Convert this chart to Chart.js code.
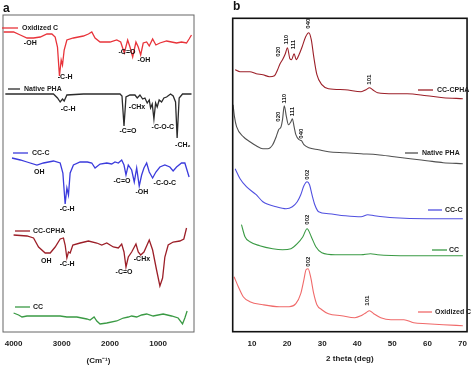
<!DOCTYPE html>
<html><head><meta charset="utf-8">
<script src="https://cdn.jsdelivr.net/npm/chart.js@4"></script>
<style>
html,body{margin:0;padding:0;background:#fff;width:474px;height:366px;overflow:hidden}
#ca{position:absolute;left:0;top:0}
#cb{position:absolute;left:230px;top:0}
</style></head><body>
<canvas id="ca" width="200" height="366"></canvas>
<canvas id="cb" width="244" height="366"></canvas>
<script>
// ---------- Panel a : FTIR (wavenumber, cm-1 ; arbitrary offset transmittance) ----------
const seriesNames = ['Oxidized C', 'Native PHA', 'CC-C', 'CC-CPHA', 'CC'];
const ftirTicks = [1000, 2000, 3000, 4000];

const ftirOxidizedWn = [4207,4000,3861,3722,3586,3447,3308,3205,3137,3089,3048,3012,2985,2950,2894,2758,2551,2447,2377,2309,2205,1998,1859,1777,1702,1632,1584,1528,1460,1412,1362,1309,1238,1184,1114,1046,963,824,721,617,514,410,357,307];
const ftirOxidizedT  = [300,300,297,294,294,295,298,298,295,285,256,272,267,282,292,294,296,298,300,294,290,290,292,290,279,292,285,275,290,285,277,289,290,286,293,287,289,291,290,289,290,289,293,297];

const ftirNativeWn = [4172,3586,3172,3089,3033,2985,2950,2894,2551,1791,1750,1708,1667,1584,1481,1433,1377,1321,1274,1226,1184,1156,1122,1087,1052,1019,978,928,880,824,742,687,638,605,563,493,307];
const ftirNativeT  = [238,238,238,234,230,233,231,237,238,238,236,206,235,237,237,234,237,233,234,229,232,224,228,213,229,225,232,230,234,235,238,236,230,194,234,238,238];

const ftirCCCWn = [4033,3861,3722,3515,3379,3172,3033,2977,2930,2894,2861,2826,2758,2619,2468,2377,2309,2205,2066,1963,1895,1826,1756,1708,1667,1619,1549,1495,1445,1392,1342,1294,1238,1184,1114,1046,963,860,756,688,617,514,445,357];
const ftirCCCT  = [174,172,170,167,169,171,169,159,128,144,137,159,167,170,170,169,164,168,169,168,170,169,172,167,157,167,162,150,164,146,157,164,169,160,154,160,165,167,165,161,165,169,169,155];

const ftirCCCPHAWn = [4000,3722,3586,3482,3344,3240,3137,3033,2965,2930,2894,2861,2826,2770,2619,2447,2273,2170,2066,1930,1826,1756,1708,1667,1619,1549,1460,1412,1362,1294,1184,1114,1032,963,907,860,791,688,549,466,410];
const ftirCCCPHAT  = [97,96,94,85,79,79,85,93,94,87,74,80,79,87,89,91,89,87,89,85,84,88,80,65,75,80,88,80,77,80,92,82,62,46,54,75,87,90,91,93,104];

const ftirCCWn = [4000,3896,3826,3722,3447,3033,2894,2687,2480,2412,2329,2273,2205,2066,1859,1723,1619,1549,1445,1342,1238,1102,895,721,584,493,445,398];
const ftirCCT  = [19,17,15,16,16,16,15,15,13,12,15,11,8,9,11,14,15,16,15,17,18,16,18,16,14,8,14,21];

const ftirLabelText = ['-OH','-C-H','-C=O','-OH', '-C-H','-CHx','-C=O','-C-O-C','-CH\u2082', 'OH','-C-H','-C=O','-OH','-C-O-C', 'OH','-C-H','-C=O','-CHx'];
const ftirLabelWn   = [3654,2930,1646,1294, 2868,1439,1626,901,487, 3468,2888,1750,1336,860, 3323,2888,1708,1336];
const ftirLabelT    = [289,255,280,272, 223,225,201,205,187, 160,123,151,140,149, 71,68,60,73];

// ---------- Panel b : XRD (2 theta, deg ; arbitrary offset intensity) ----------
const xrdTicks = [10, 20, 30, 40, 50, 60, 70];

const xrdCCCPHADeg = [5.2,6.6,9.4,11.2,13.1,15.0,16.4,17.3,18.0,18.7,19.5,20.1,20.8,21.3,22.0,22.6,23.4,24.3,25.3,26.2,26.9,27.6,28.5,29.9,31.8,36.5,41.1,42.5,43.5,44.4,45.8,50.5,54.2,59.8,64.5,70.1];
const xrdCCCPHAI   = [262,260,260,258,257,255,256,262,268,272,278,284,273,272,278,272,277,285,295,299,292,275,257,247,243,242,240,242,244,242,239,238,238,236,234,233];

const xrdNativeDeg = [4.6,5.0,5.6,7.5,9.4,11.2,13.1,14.5,15.9,16.9,17.6,18.3,18.7,19.2,19.8,20.4,21.1,21.5,22.0,22.5,23.4,24.1,24.8,26.2,29.0,31.8,36.5,41.1,45.8,50.5,55.1,59.8,64.5,70.1];
const xrdNativeI   = [227,215,205,195,190,186,183,183,187,195,202,205,212,226,215,207,210,213,205,197,192,191,187,184,182,180,179,178,177,175,173,171,169,168];

const xrdCCCDeg = [5.2,6.6,8.4,11.2,13.1,16.9,19.7,21.5,22.9,23.9,24.8,25.7,26.4,27.1,27.9,29.0,31.8,36.5,41.1,43.0,44.9,50.5,59.8,70.1];
const xrdCCCI   = [163,153,145,137,130,125,123,125,130,137,146,150,147,137,127,120,118,116,115,117,116,114,113,113];

const xrdCCDeg = [7.0,8.0,9.4,12.2,15.9,18.7,21.1,22.9,24.5,25.7,26.9,28.2,29.9,33.7,41.1,43.8,45.8,55.1,70.1];
const xrdCCI   = [107,95,90,86,83,82,83,88,95,103,95,85,79,77,77,78,77,76,76];

const xrdOxidizedDeg = [4.9,6.1,7.5,9.4,13.1,17.8,20.6,22.5,23.9,24.8,25.4,26.0,26.7,27.6,28.5,29.9,31.8,35.5,39.3,41.1,42.5,43.5,44.7,46.7,49.6,51.4,53.3,56.1,59.8,64.5,70.1];
const xrdOxidizedI   = [55,45,35,30,27,25,25,28,38,52,62,63,55,38,27,22,18,16,14,16,19,21,18,14,12,12,12,9,8,7,6];

const xrdLabelText = ['020','110','111','040','101', '020','110','111','040', '002', '002', '002','101'];
const xrdLabelDeg  = [17.6,19.8,21.7,26.2,43.5, 17.6,19.2,21.4,24.1, 25.7, 25.7, 26.0,43.0];
const xrdLabelI    = [280,292,287,308,252, 215,233,220,198, 157, 112, 70,31];

// ---------- styling / layout ----------
const FONT = '"Liberation Sans", Arial, sans-serif';
const pts = (xs, ys) => xs.map((x, i) => ({x, y: ys[i]}));

function decoPlugin(o) {
  return {
    id: 'deco' + o.letter,
    afterDatasetsDraw(chart) {
      const {ctx, chartArea: a, scales} = chart;
      const sx = scales.x, sy = scales.y;
      ctx.save();
      ctx.strokeStyle = o.frameColor; ctx.lineWidth = o.frameWidth;
      ctx.strokeRect(a.left, a.top, a.right - a.left, a.bottom - a.top);
      ctx.fillStyle = '#111';
      ctx.font = 'bold ' + o.labelSize + 'px ' + FONT;
      ctx.textAlign = 'center'; ctx.textBaseline = 'middle';
      o.labels.forEach((t, i) => {
        const px = sx.getPixelForValue(o.lx[i]), py = sy.getPixelForValue(o.ly[i]);
        if (o.rotate) { ctx.save(); ctx.translate(px, py); ctx.rotate(-Math.PI / 2); ctx.fillText(t, 0, 0); ctx.restore(); }
        else ctx.fillText(t, px, py);
      });
      // legend entries next to each curve
      ctx.font = 'bold 7px ' + FONT; ctx.textAlign = 'left';
      chart.data.datasets.forEach((d, i) => {
        const L = o.legend[i];
        ctx.strokeStyle = d.borderColor; ctx.lineWidth = 1.3;
        ctx.beginPath(); ctx.moveTo(L[0], L[2]); ctx.lineTo(L[1], L[2]); ctx.stroke();
        ctx.fillStyle = '#222'; ctx.fillText(d.label, L[3], L[2] + 0.5);
      });
      ctx.font = 'bold 12px ' + FONT; ctx.fillStyle = '#111'; ctx.textBaseline = 'alphabetic';
      ctx.fillText(o.letter, o.letterPos[0], o.letterPos[1]);
      ctx.restore();
    }
  };
}

function xScale(min, max, reverse, ticks, title, height) {
  return {
    type: 'linear', min, max, reverse,
    grid: {display: false, drawTicks: false}, border: {display: false},
    ticks: {font: {family: FONT, size: 8, weight: 'bold'}, color: '#222', padding: 7, autoSkip: false, maxRotation: 0,
            callback: v => String(v)},
    afterBuildTicks: s => { s.ticks = ticks.map(v => ({value: v})); },
    afterFit: s => { s.height = height; },
    title: {display: true, text: title, font: {family: FONT, size: 8, weight: 'bold'}, color: '#222', padding: 0}
  };
}

const colorsA = ['#e8333a', '#2b2b2b', '#3b3bdc', '#9c1f28', '#3a9a44'];
const colorsB = ['#f06a6a', '#505050', '#5050e0', '#9c1f28', '#3a9a44'];

new Chart(document.getElementById('ca'), {
  type: 'line',
  data: {datasets: [
    [ftirOxidizedWn, ftirOxidizedT], [ftirNativeWn, ftirNativeT], [ftirCCCWn, ftirCCCT],
    [ftirCCCPHAWn, ftirCCCPHAT], [ftirCCWn, ftirCCT]
  ].map((s, i) => ({label: seriesNames[i], data: pts(s[0], s[1]), borderColor: colorsA[i], borderWidth: 1.3,
                    pointRadius: 0, tension: 0, fill: false}))},
  options: {
    responsive: false, animation: false, devicePixelRatio: 1,
    layout: {padding: {left: 3, top: 15, right: 6, bottom: 0}},
    plugins: {legend: {display: false}, tooltip: {enabled: false}},
    scales: {
      x: xScale(255, 4220, true, ftirTicks, '(Cm\u207B\u00B9)', 34),
      y: {display: false, min: 0, max: 317}
    }
  },
  plugins: [decoPlugin({
    letter: 'a', letterPos: [3, 12], frameColor: '#666', frameWidth: 1,
    labels: ftirLabelText, lx: ftirLabelWn, ly: ftirLabelT, labelSize: 7, rotate: false,
    legend: [[2, 18, 28, 22], [8, 20, 89, 24], [13, 28, 153, 32], [15, 30, 231, 33], [15, 30, 307, 33]]
  })]
});

new Chart(document.getElementById('cb'), {
  type: 'line',
  data: {datasets: [
    [xrdOxidizedDeg, xrdOxidizedI], [xrdNativeDeg, xrdNativeI], [xrdCCCDeg, xrdCCCI],
    [xrdCCCPHADeg, xrdCCCPHAI], [xrdCCDeg, xrdCCI]
  ].map((s, i) => ({label: seriesNames[i], data: pts(s[0], s[1]), borderColor: colorsB[i], borderWidth: 1.1,
                    pointRadius: 0, cubicInterpolationMode: 'monotone', fill: false}))},
  options: {
    responsive: false, animation: false, devicePixelRatio: 1,
    layout: {padding: {left: 2.7, top: 18.3, right: 3.3, bottom: 2}},
    plugins: {legend: {display: false}, tooltip: {enabled: false}},
    scales: {
      x: xScale(4.5, 71.3, false, xrdTicks, '2 theta (deg)', 32.3),
      y: {display: false, min: 0, max: 313.4}
    }
  },
  plugins: [decoPlugin({
    letter: 'b', letterPos: [3, 10], frameColor: '#111', frameWidth: 1.6,
    labels: xrdLabelText, lx: xrdLabelDeg, ly: xrdLabelI, labelSize: 6, rotate: true,
    legend: [[188, 202, 312, 205], [175, 188, 153, 192], [198, 212, 210, 215], [188, 203, 90, 207], [202, 217, 250, 219]]
  })]
});
</script>
</body></html>
